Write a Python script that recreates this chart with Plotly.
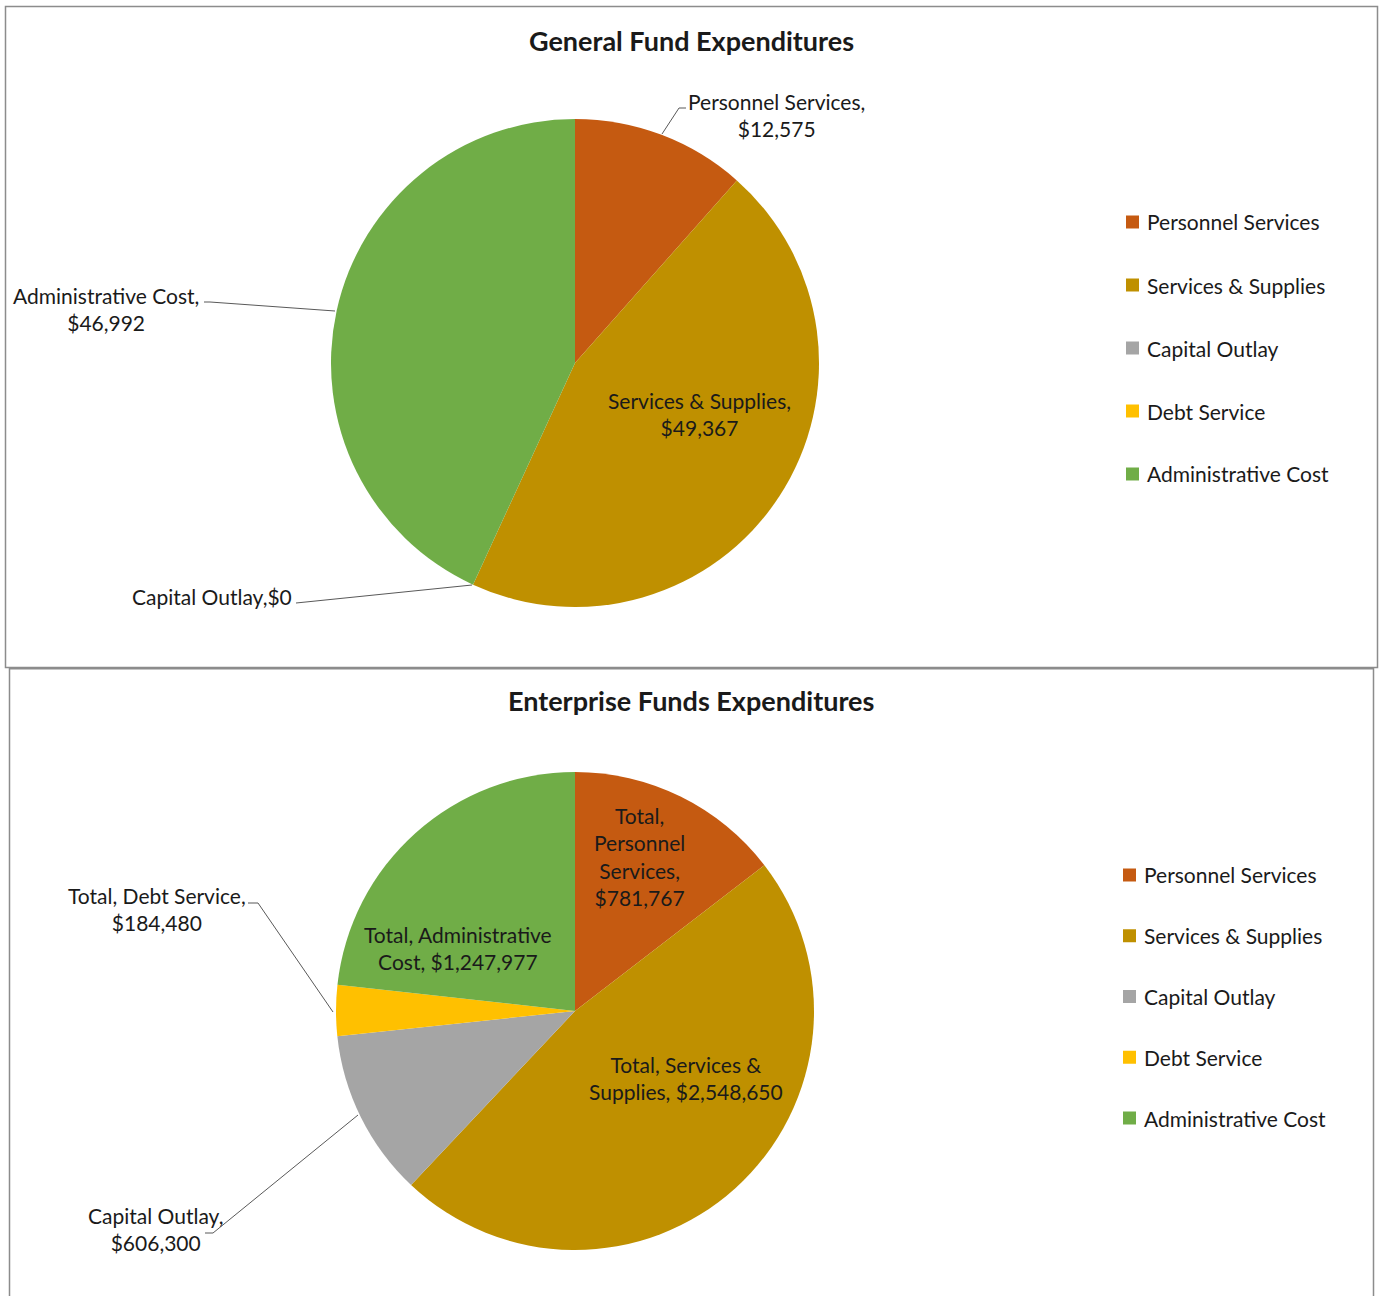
import plotly.graph_objects as go

W, H = 1384, 1296

categories = ["Personnel Services", "Services & Supplies", "Capital Outlay", "Debt Service", "Administrative Cost"]
colors = ["#C55A11", "#BF9000", "#A5A5A5", "#FFC000", "#70AD47"]

general_values = [12575, 49367, 0, 0, 46992]
enterprise_values = [781767, 2548650, 606300, 184480, 1247977]

general_title = "General Fund Expenditures"
enterprise_title = "Enterprise Funds Expenditures"

FONT = "Lato, 'Open Sans', sans-serif"
TXT = "#1a1a1a"
FS = 21


def px(x):
    return x / W


def py(y):
    return 1 - y / H


def money(v):
    return "${:,}".format(v)


fig = go.Figure()

# top pie
fig.add_trace(go.Pie(
    labels=categories, values=general_values, sort=False, direction="clockwise",
    rotation=0, marker=dict(colors=colors, line=dict(width=0)), textinfo="none",
    hoverinfo="label+value", showlegend=False,
    domain=dict(x=[px(331), px(819)], y=[py(607), py(119)]),
))
# bottom pie
fig.add_trace(go.Pie(
    labels=categories, values=enterprise_values, sort=False, direction="clockwise",
    rotation=0, marker=dict(colors=colors, line=dict(width=0)), textinfo="none",
    hoverinfo="label+value", showlegend=False,
    domain=dict(x=[px(336), px(814)], y=[py(1250), py(772)]),
))

annotations = []
shapes = []


def label(text, x, y, size=FS):
    annotations.append(dict(
        text=text, x=px(x), y=py(y), xref="paper", yref="paper",
        xanchor="center", yanchor="middle", showarrow=False, align="center",
        font=dict(family=FONT, size=size, color=TXT),
    ))


def leader(points):
    d = "M {} {}".format(px(points[0][0]), py(points[0][1]))
    for (x, y) in points[1:]:
        d += " L {} {}".format(px(x), py(y))
    shapes.append(dict(type="path", path=d, xref="paper", yref="paper",
                       line=dict(color="#595959", width=1)))


# titles
label("<b>" + general_title + "</b>", 691, 40, size=27)
label("<b>" + enterprise_title + "</b>", 691, 700, size=27)

# top labels
g = dict(zip(categories, general_values))
label("Personnel Services,<br>" + money(g["Personnel Services"]), 776, 115)
leader([(686, 108), (679, 108), (662, 134)])
label("Services & Supplies,<br>" + money(g["Services & Supplies"]), 699, 414)
label("Administrative Cost,<br>" + money(g["Administrative Cost"]), 106, 309)
leader([(204, 302), (210, 302), (335, 311)])
label("Capital Outlay," + money(g["Capital Outlay"]), 212, 596)
leader([(296, 603), (472, 585)])

# bottom labels
e = dict(zip(categories, enterprise_values))
label("Total,<br>Personnel<br>Services,<br>" + money(e["Personnel Services"]), 639, 856)
label("Total, Administrative<br>Cost, " + money(e["Administrative Cost"]), 458, 948)
label("Total, Services &<br>Supplies, " + money(e["Services & Supplies"]), 686, 1078)
label("Total, Debt Service,<br>" + money(e["Debt Service"]), 157, 909)
leader([(248, 903), (258, 903), (333, 1012)])
label("Capital Outlay,<br>" + money(e["Capital Outlay"]), 155, 1229)
leader([(205, 1233), (213, 1233), (358, 1115)])


# legends (drawn manually for Excel-like spacing)
def legend(x0, y0, step):
    for i, (name, col) in enumerate(zip(categories, colors)):
        yc = y0 + i * step
        shapes.append(dict(type="rect", xref="paper", yref="paper",
                           x0=px(x0), x1=px(x0 + 13), y0=py(yc - 6.5), y1=py(yc + 6.5),
                           fillcolor=col, line=dict(width=0)))
        annotations.append(dict(
            text=name, x=px(x0 + 19), y=py(yc), xref="paper", yref="paper",
            xanchor="left", yanchor="middle", showarrow=False,
            font=dict(family=FONT, size=FS, color=TXT),
        ))


legend(1126, 222, 63)
legend(1123, 875, 60.75)

# panel borders
shapes.append(dict(type="rect", xref="paper", yref="paper", x0=px(5.5), x1=px(1377.5),
                   y0=py(667.5), y1=py(6.5), line=dict(color="#8c8c8c", width=1.5)))
shapes.append(dict(type="rect", xref="paper", yref="paper", x0=px(9.5), x1=px(1373.5),
                   y0=py(1310), y1=py(668.8), line=dict(color="#8c8c8c", width=1.5)))

fig.update_layout(
    width=W, height=H, margin=dict(l=0, r=0, t=0, b=0),
    paper_bgcolor="white", plot_bgcolor="white",
    annotations=annotations, shapes=shapes, showlegend=False,
)

fig.write_html("out.html", config={"displayModeBar": False},
               post_script="document.body.style.margin='0';document.body.style.overflow='hidden';")
